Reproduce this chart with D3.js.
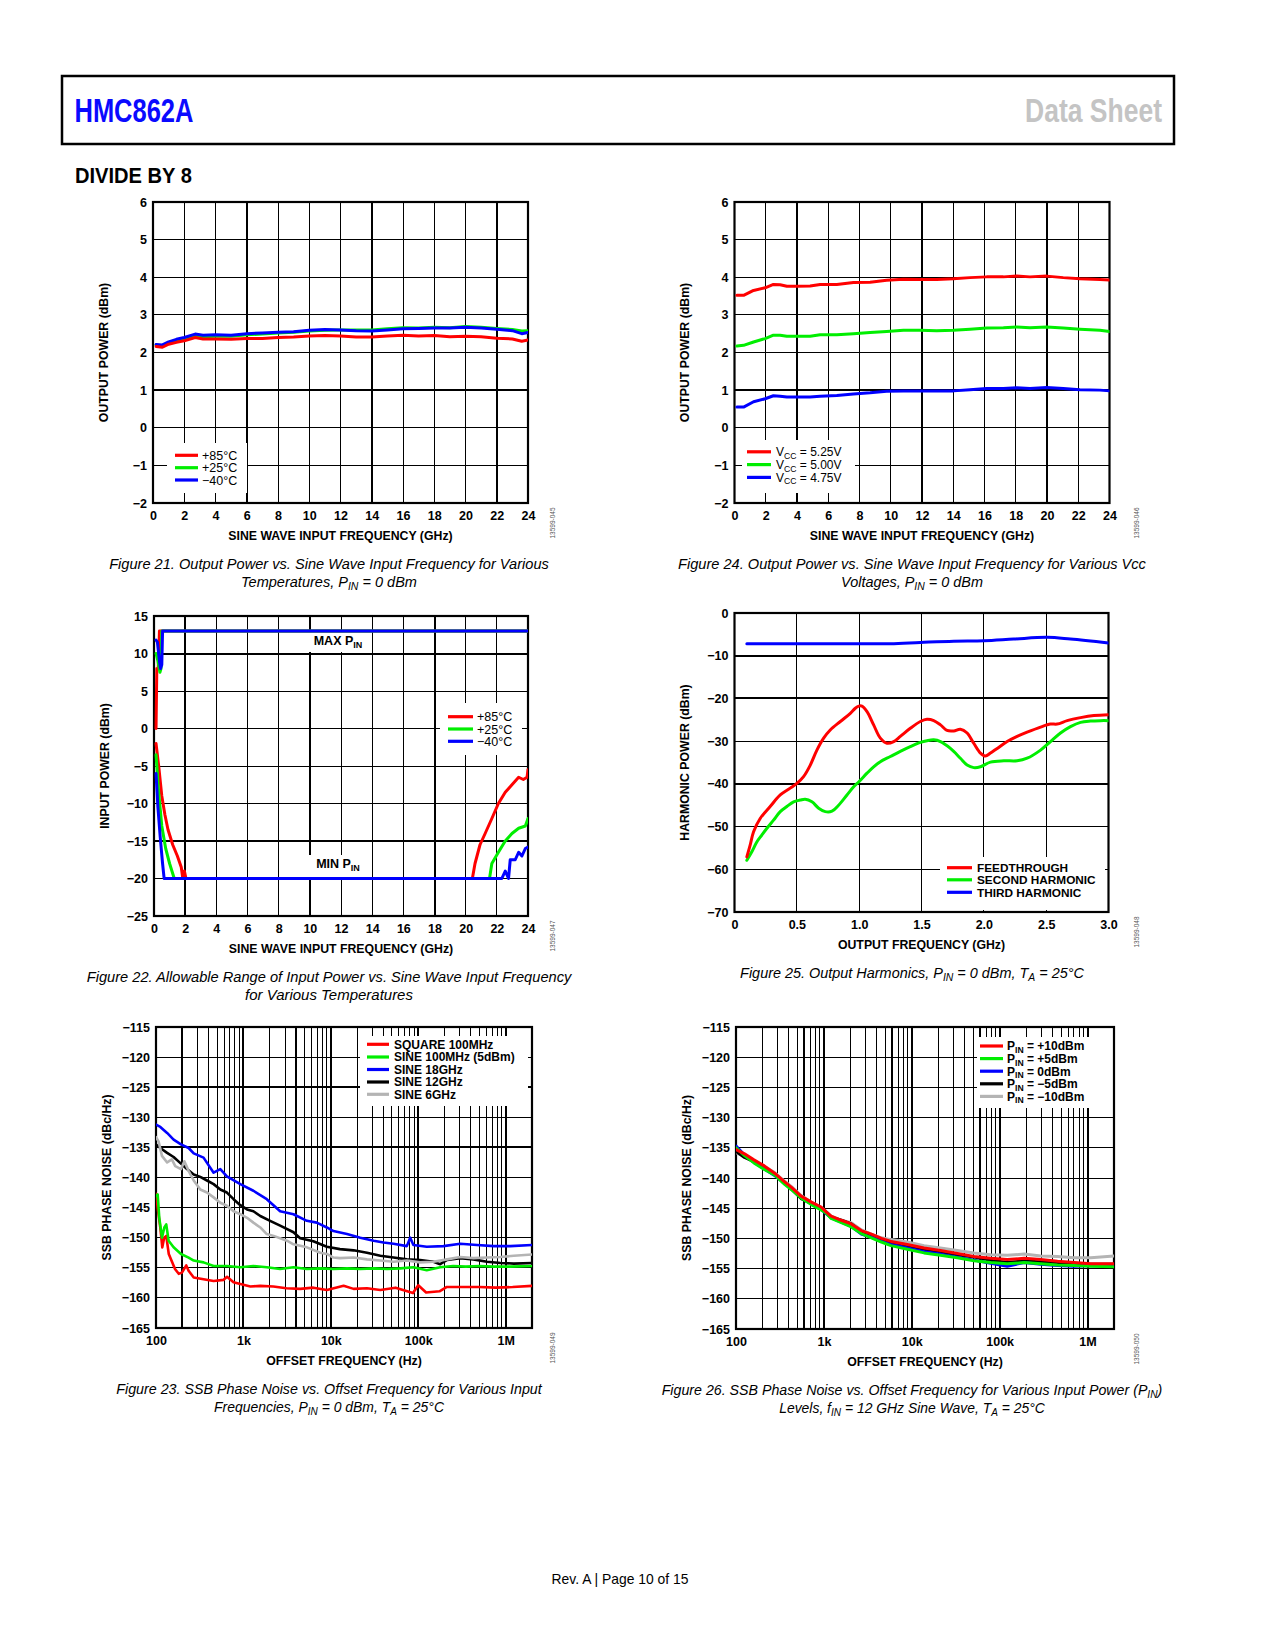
<!DOCTYPE html>
<html>
<head>
<meta charset="utf-8">
<script src="https://cdn.jsdelivr.net/npm/d3@7"></script>
<style>
  body { margin: 0; background: #fff; }
</style>
</head>
<body>
<script>
/* FONTS */
const SANS = '"Liberation Sans", Arial, sans-serif';

/* DATA */
// figure 21: output power vs frequency, three temperatures
const f21Freq = [0.2, 0.6, 1.0, 1.5, 2.0, 2.7, 3.2, 4, 5, 6, 7, 8, 9, 10, 11, 12, 13, 14, 15, 16, 17, 18, 19, 20, 21, 22, 23, 23.6, 24];
const f21Hot  = [2.16, 2.14, 2.22, 2.27, 2.31, 2.40, 2.36, 2.36, 2.35, 2.37, 2.37, 2.40, 2.41, 2.44, 2.45, 2.44, 2.41, 2.41, 2.44, 2.46, 2.44, 2.45, 2.42, 2.43, 2.42, 2.38, 2.36, 2.30, 2.33];
const f21Room = [2.20, 2.18, 2.26, 2.33, 2.37, 2.45, 2.42, 2.43, 2.43, 2.47, 2.49, 2.52, 2.54, 2.57, 2.59, 2.60, 2.60, 2.60, 2.63, 2.66, 2.65, 2.67, 2.66, 2.69, 2.67, 2.64, 2.61, 2.57, 2.58];
const f21Cold = [2.21, 2.20, 2.28, 2.35, 2.40, 2.49, 2.46, 2.47, 2.46, 2.50, 2.52, 2.54, 2.55, 2.59, 2.61, 2.60, 2.58, 2.57, 2.60, 2.63, 2.64, 2.65, 2.65, 2.67, 2.65, 2.62, 2.58, 2.50, 2.53];
const tempLabels = ["+85°C", "+25°C", "−40°C"];

// figure 22: allowable input power range
const maxFreqHot = [0.13, 0.18, 0.27, 0.35, 24];
const maxPinHot  = [0, 8, 8, 13, 13];
const maxFreqRoom = [0.13, 0.25, 0.38, 0.45, 0.5, 24];
const maxPinRoom  = [10, 9, 7.5, 8, 13, 13];
const maxFreqCold = [0.13, 0.22, 0.35, 0.42, 0.5, 0.55, 24];
const maxPinCold  = [11.8, 11.5, 9, 8, 8.5, 13, 13];
const minFreqHot = [0.13, 0.3, 0.5, 0.7, 0.9, 1.2, 1.5, 1.75, 1.85, 1.95, 2.05, 20.43, 20.6, 20.92, 21.25, 21.68, 22.1, 22.54, 22.97, 23.4, 23.7, 23.94, 24];
const minPinHot  = [-2, -5, -9, -11.5, -13.5, -15.5, -17, -18.5, -20, -19, -20, -20, -18, -15.5, -14, -12, -10, -8.5, -7.5, -6.5, -6.8, -6.5, -5.5];
const minFreqRoom = [0.13, 0.3, 0.5, 0.75, 1.0, 1.15, 1.3, 21.53, 21.68, 22.1, 22.54, 22.97, 23.4, 23.83, 24];
const minPinRoom  = [-3.5, -8.5, -13, -16, -18, -19, -20, -20, -18, -16.5, -15, -14, -13.3, -13, -12];
const minFreqCold = [0.13, 0.25, 0.4, 0.55, 0.65, 22.32, 22.54, 22.75, 22.86, 23.18, 23.4, 23.61, 23.83, 24];
const minPinCold  = [-6, -10.5, -14.5, -18, -20, -20, -19, -20, -17.5, -17.5, -16.5, -17, -16, -15.8];

// figure 23: phase noise for various input frequencies
const sq100Off = [100, 105, 112, 118, 124, 131, 140, 165, 182, 198, 222, 236, 270, 350, 456, 594, 650, 770, 922, 1200, 1560, 2200, 3100, 4460, 6300, 9000, 14000, 18200, 25900, 36800, 55000, 87000, 100000, 123000, 175000, 210000, 324000, 500000, 770000, 1200000, 2000000];
const sq100PN  = [-142.7, -145.3, -148.3, -151.6, -150.0, -149.7, -152.7, -155.2, -156.0, -155.8, -154.6, -155.5, -156.6, -156.9, -157.2, -157.0, -156.5, -157.4, -157.7, -158.1, -158.0, -158.1, -158.4, -158.5, -158.3, -158.7, -158.0, -158.5, -158.4, -158.7, -158.3, -159.2, -157.9, -159.1, -158.9, -158.2, -158.2, -158.2, -158.3, -158.2, -158.0];
const sin100Off = [100, 104.5, 109, 117, 124.5, 131, 139.5, 159, 193, 236, 270, 350, 456, 650, 922, 1300, 1850, 2630, 3740, 5320, 7560, 10700, 15300, 21700, 30900, 44000, 62500, 88000, 125000, 178000, 250000, 350000, 500000, 730000, 1130000, 2000000];
const sin100PN  = [-143.1, -142.8, -146.7, -150.0, -148.3, -147.8, -150.5, -151.6, -152.7, -153.3, -153.8, -154.1, -154.7, -154.7, -154.9, -154.7, -154.9, -155.2, -154.9, -155.2, -155.1, -155.2, -155.1, -155.2, -155.1, -155.2, -155.1, -154.9, -155.4, -154.9, -154.7, -154.8, -154.7, -154.8, -154.8, -154.7];
const sin18Off = [100, 112, 134, 159, 193, 236, 270, 350, 456, 544, 647, 922, 1300, 1850, 2630, 3740, 5320, 6900, 9000, 10700, 15300, 21700, 30900, 40000, 52100, 74000, 80900, 88000, 125000, 194000, 302000, 470000, 730000, 1130000, 2000000];
const sin18PN  = [-131.2, -131.6, -132.6, -133.7, -134.5, -135.1, -136.0, -136.7, -139.2, -138.6, -139.8, -141.1, -142.2, -143.6, -145.6, -146.1, -147.2, -147.5, -148.3, -148.9, -149.4, -150.0, -150.5, -150.8, -151.0, -151.4, -150.0, -151.2, -151.5, -151.4, -151.0, -151.2, -151.4, -151.4, -151.2];
const sin12Off = [100, 112, 134, 159, 193, 226, 270, 321, 383, 456, 544, 647, 771, 922, 1100, 1300, 1560, 2020, 2630, 3740, 4460, 6300, 9000, 12700, 18200, 25900, 36800, 52100, 74000, 105000, 149000, 178000, 214000, 302000, 427000, 611000, 872000, 1240000, 2000000];
const sin12PN  = [-134.5, -135.1, -135.9, -136.6, -137.7, -138.6, -139.5, -139.9, -140.5, -141.1, -142.0, -142.5, -143.6, -144.6, -145.3, -145.6, -146.4, -147.2, -148.0, -149.1, -150.1, -150.6, -151.5, -151.9, -152.1, -152.5, -153.0, -153.3, -153.6, -153.7, -154.0, -154.4, -153.7, -153.4, -153.6, -154.0, -154.2, -154.3, -154.2];
const sin6Off = [100, 107, 117, 134, 152, 166, 193, 211, 236, 270, 321, 383, 456, 544, 647, 771, 922, 1100, 1300, 1560, 1850, 2220, 3140, 3740, 5320, 7560, 9000, 10700, 12700, 18200, 25900, 36800, 52100, 74000, 105000, 149000, 214000, 302000, 427000, 611000, 872000, 1240000, 2000000];
const sin6PN  = [-133.3, -134.0, -136.4, -137.5, -137.0, -138.1, -138.6, -137.3, -138.9, -140.5, -142.0, -142.5, -143.3, -144.2, -144.7, -145.6, -146.1, -146.7, -147.5, -148.3, -149.4, -149.7, -150.5, -151.1, -151.6, -152.5, -152.7, -153.3, -153.4, -153.3, -153.6, -153.8, -154.0, -153.8, -154.1, -154.0, -153.6, -153.2, -153.4, -153.3, -153.2, -153.0, -152.8];
const inputLabels = ["SQUARE 100MHz", "SINE 100MHz (5dBm)", "SINE 18GHz", "SINE 12GHz", "SINE 6GHz"];

// figure 24: output power for various supply voltages
const f24Freq = [0.15, 0.58, 1.22, 1.96, 2.49, 2.92, 3.35, 3.99, 4.84, 5.48, 6.55, 7.61, 8.68, 9.74, 10.81, 11.88, 12.94, 14.01, 15.07, 16.14, 17.21, 18.06, 18.91, 19.98, 21.04, 22.11, 23.39, 24];
const vcc525 = [3.52, 3.52, 3.65, 3.72, 3.81, 3.80, 3.76, 3.76, 3.77, 3.81, 3.81, 3.86, 3.87, 3.92, 3.95, 3.94, 3.94, 3.96, 3.99, 4.01, 4.01, 4.03, 4.01, 4.03, 3.99, 3.96, 3.94, 3.93];
const vcc500 = [2.17, 2.19, 2.28, 2.37, 2.46, 2.46, 2.43, 2.43, 2.43, 2.47, 2.47, 2.50, 2.53, 2.56, 2.59, 2.59, 2.58, 2.59, 2.62, 2.65, 2.66, 2.68, 2.66, 2.68, 2.65, 2.62, 2.59, 2.56];
const vcc475 = [0.55, 0.55, 0.69, 0.77, 0.85, 0.84, 0.82, 0.82, 0.82, 0.84, 0.86, 0.90, 0.93, 0.97, 0.98, 0.98, 0.98, 0.98, 1.01, 1.04, 1.04, 1.06, 1.04, 1.07, 1.04, 1.01, 1.00, 0.98];
const vccLabels = ["V_{CC} = 5.25V", "V_{CC} = 5.00V", "V_{CC} = 4.75V"];

// figure 25: output harmonics
const feedFreq = [0.099, 0.126, 0.153, 0.206, 0.286, 0.367, 0.447, 0.5, 0.554, 0.608, 0.661, 0.715, 0.768, 0.849, 0.929, 0.969, 0.998, 1.022, 1.063, 1.116, 1.17, 1.223, 1.277, 1.33, 1.41, 1.491, 1.544, 1.598, 1.652, 1.705, 1.759, 1.812, 1.866, 1.919, 1.973, 2.013, 2.053, 2.107, 2.187, 2.267, 2.347, 2.455, 2.535, 2.588, 2.669, 2.776, 2.883, 3.0];
const feedPow  = [-57.1, -54.3, -51.2, -48.1, -45.3, -42.6, -41.0, -39.9, -38.3, -35.6, -32.1, -29.3, -27.4, -25.4, -23.5, -22.3, -21.8, -21.8, -23.1, -26.2, -29.3, -30.5, -30.1, -28.9, -27.0, -25.4, -24.9, -25.2, -26.2, -27.5, -27.6, -27.2, -28.1, -30.5, -32.8, -33.5, -32.8, -31.7, -30.1, -28.9, -27.9, -26.7, -26.0, -26.0, -25.2, -24.5, -24.0, -23.8];
const secFreq = [0.099, 0.139, 0.179, 0.219, 0.26, 0.313, 0.367, 0.42, 0.474, 0.527, 0.567, 0.621, 0.675, 0.728, 0.782, 0.835, 0.902, 0.956, 0.998, 1.063, 1.116, 1.17, 1.25, 1.33, 1.41, 1.491, 1.544, 1.598, 1.652, 1.732, 1.812, 1.866, 1.919, 1.973, 2.053, 2.16, 2.267, 2.347, 2.455, 2.535, 2.615, 2.695, 2.776, 2.856, 2.936, 3.0];
const secPow  = [-57.9, -55.9, -53.6, -52.0, -50.4, -48.5, -46.5, -45.3, -44.2, -43.8, -43.6, -44.2, -45.7, -46.5, -46.4, -45.0, -42.6, -40.7, -39.5, -37.5, -36.0, -34.8, -33.6, -32.4, -31.3, -30.3, -29.9, -29.7, -30.1, -31.7, -34.0, -35.6, -36.2, -36.0, -34.9, -34.6, -34.6, -34.0, -32.1, -30.1, -28.1, -26.6, -25.6, -25.3, -25.2, -25.2];
const thirdFreq = [0.099, 0.42, 0.998, 1.25, 1.491, 1.759, 2.0, 2.24, 2.508, 2.695, 3.0];
const thirdPow  = [-7.2, -7.2, -7.2, -7.2, -6.9, -6.6, -6.5, -6.1, -5.7, -6.1, -7.0];
const harmLabels = ["FEEDTHROUGH", "SECOND HARMONIC", "THIRD HARMONIC"];

// figure 26: phase noise for various input powers (12 GHz)
const pinOff = [100, 125, 160, 210, 275, 355, 425, 550, 720, 930, 1060, 1210, 1580, 2050, 2670, 3470, 4510, 5800, 8900, 13800, 21200, 33000, 51000, 79000, 122000, 190000, 294000, 455000, 704000, 1090000, 2000000];
const pnP10  = [-135.3, -136.0, -137.0, -138.0, -139.2, -140.6, -141.5, -143.0, -144.0, -144.8, -145.6, -146.3, -147.0, -147.6, -148.7, -149.3, -150.0, -150.5, -151.0, -151.6, -152.0, -152.5, -153.0, -153.3, -153.5, -153.3, -153.5, -153.8, -154.0, -154.2, -154.2];
const pnP5   = [-135.0, -136.3, -137.5, -138.6, -139.5, -141.0, -141.9, -143.3, -144.4, -145.3, -145.8, -146.7, -147.4, -148.1, -149.2, -149.9, -150.6, -151.2, -151.8, -152.4, -152.8, -153.2, -153.7, -154.0, -154.2, -154.0, -154.2, -154.4, -154.5, -154.6, -154.7];
const pnP0   = [-134.7, -136.2, -137.4, -138.5, -139.6, -140.8, -141.7, -143.1, -144.3, -145.2, -145.9, -146.6, -147.3, -148.0, -149.3, -149.8, -150.5, -151.0, -151.6, -152.2, -152.6, -153.1, -153.6, -154.1, -154.6, -154.0, -154.3, -154.5, -154.6, -154.5, -154.6];
const pnM5   = [-135.6, -136.6, -137.3, -138.3, -139.4, -140.9, -141.8, -143.4, -144.2, -145.0, -145.7, -146.5, -147.0, -147.6, -148.9, -149.6, -150.3, -150.6, -151.2, -151.8, -152.2, -152.7, -153.1, -153.6, -154.0, -153.7, -153.9, -154.1, -154.2, -154.3, -154.3];
const pnM10  = [-135.8, -136.4, -137.2, -138.1, -139.1, -140.5, -141.4, -142.9, -144.0, -144.9, -145.5, -146.3, -147.0, -147.4, -148.6, -149.3, -149.9, -150.2, -150.6, -151.2, -151.6, -152.0, -152.4, -152.7, -152.8, -152.6, -152.9, -153.0, -153.2, -153.2, -152.9];
const pinLabels = ["P_{IN} = +10dBm", "P_{IN} = +5dBm", "P_{IN} = 0dBm", "P_{IN} = −5dBm", "P_{IN} = −10dBm"];

// axis ticks
const powerTicks = d3.range(-2, 7, 1);
const ghzTicks = d3.range(0, 25, 2);
const pinTicks = d3.range(-25, 20, 5);
const pnTicks = d3.range(-165, -110, 5);
const decadeTicks = [100, 1000, 10000, 100000, 1000000];
const decadeNames = {100: "100", 1000: "1k", 10000: "10k", 100000: "100k", 1000000: "1M"};
const harmTicks = d3.range(-70, 10, 10);
const outFreqTicks = d3.range(0, 3.01, 0.5);

/* PAGE */
const svg = d3.select("body").append("svg")
  .attr("width", 1275)
  .attr("height", 1650)
  .style("display", "block");

// squeeze a text horizontally so it spans a target width (condensed look)
function fitX(t, cx, cy, width) {
  const len = t.node().getComputedTextLength();
  const s = len > 0 ? width / len : 1;
  t.attr("x", 0).attr("y", 0).attr("transform", `translate(${cx},${cy}) scale(${s},1)`);
  return t;
}

// "P_{IN} = 0" -> tspans with subscripts
function rich(t, str) {
  str.split(/_\{|\}/).forEach((p, i) => {
    if (!p) return;
    const ts = t.append("tspan").text(p);
    if (i % 2 === 1) ts.attr("font-size", "0.72em").attr("dy", "0.3em");
    else if (i > 0) ts.attr("dy", "-0.216em");
  });
  return t;
}

// log grid: 1..9 times each decade
function logGrid(lo, hi) {
  const out = [];
  for (let d = lo; d < hi; d *= 10) {
    for (let k = 1; k <= 9; k++) if (d * k > lo && d * k < hi) out.push(d * k);
  }
  return out;
}

function drawChart(c) {
  const g = svg.append("g");
  const x = (c.log ? d3.scaleLog() : d3.scaleLinear()).domain(c.xDomain).range([c.left, c.left + c.w]);
  const y = d3.scaleLinear().domain(c.yDomain).range([c.top + c.h, c.top]);
  const bottom = c.top + c.h;

  g.append("clipPath").attr("id", "clip" + c.id)
    .append("rect").attr("x", c.left).attr("y", c.top).attr("width", c.w).attr("height", c.h);

  // grid
  const grid = g.append("g").attr("stroke", "#000").attr("shape-rendering", "crispEdges");
  grid.selectAll(".v").data(c.xGrid).join("line")
    .attr("x1", d => x(d)).attr("x2", d => x(d))
    .attr("y1", c.top).attr("y2", bottom)
    .attr("stroke-width", d => c.xHeavy.includes(d) ? 2 : 1);
  grid.selectAll(".h").data(c.yGrid).join("line")
    .attr("x1", c.left).attr("x2", c.left + c.w)
    .attr("y1", d => y(d)).attr("y2", d => y(d))
    .attr("stroke-width", d => c.yHeavy.includes(d) ? 2 : 1);

  // legend box hides the grid under it
  const L = c.legend;
  g.append("rect").attr("x", L.x).attr("y", L.y).attr("width", L.w).attr("height", L.h).attr("fill", "#fff");
  c.series.filter(s => s.label).forEach((s, i) => {
    const cy = L.rows[i];
    g.append("line").attr("x1", L.x1).attr("x2", L.x2).attr("y1", cy).attr("y2", cy)
      .attr("stroke", s.color).attr("stroke-width", 3.2);
    const t = g.append("text").attr("x", L.tx).attr("y", cy + L.fs * 0.36)
      .attr("font-family", SANS).attr("font-size", L.fs).attr("font-weight", L.weight);
    rich(t, s.label);
  });

  // in-plot notes
  (c.notes || []).forEach(n => {
    g.append("rect").attr("x", n.bx).attr("y", n.by).attr("width", n.bw).attr("height", n.bh).attr("fill", "#fff");
    const t = g.append("text").attr("x", n.x).attr("y", n.y).attr("text-anchor", "middle")
      .attr("font-family", SANS).attr("font-size", 12.5).attr("font-weight", "bold");
    rich(t, n.text);
  });

  // frame
  g.append("rect").attr("x", c.left).attr("y", c.top).attr("width", c.w).attr("height", c.h)
    .attr("fill", "none").attr("stroke", "#000").attr("stroke-width", 2.2);

  // axes
  const ya = g.append("g").attr("transform", `translate(${c.left},0)`)
    .call(d3.axisLeft(y).tickValues(c.yTicks).tickSize(0).tickPadding(6));
  ya.select(".domain").remove();
  ya.attr("font-family", SANS).attr("font-size", 12.5).attr("font-weight", "bold");

  const xa = g.append("g").attr("transform", `translate(0,${bottom})`)
    .call(d3.axisBottom(x).tickValues(c.xTicks).tickFormat(c.xFormat).tickSize(0).tickPadding(8));
  xa.select(".domain").remove();
  xa.attr("font-family", SANS).attr("font-size", 12.5).attr("font-weight", "bold");

  g.append("text")
    .attr("transform", `translate(${c.left - 49.5},${c.top + c.h / 2}) rotate(-90)`)
    .attr("text-anchor", "middle").attr("dy", "0.35em")
    .attr("font-family", SANS).attr("font-size", 12.3).attr("font-weight", "bold")
    .text(c.yTitle);
  g.append("text")
    .attr("x", c.left + c.w / 2).attr("y", bottom + 37)
    .attr("text-anchor", "middle")
    .attr("font-family", SANS).attr("font-size", 12.3).attr("font-weight", "bold")
    .text(c.xTitle);

  // data lines
  const line = d3.line().x(d => x(d[0])).y(d => y(d[1]));
  if (c.curve) line.curve(c.curve);
  g.append("g").attr("clip-path", `url(#clip${c.id})`)
    .selectAll("path").data(c.series.slice().sort((a, b) => a.z - b.z)).join("path")
    .attr("d", s => line(d3.zip(s.x, s.y)))
    .attr("fill", "none").attr("stroke", s => s.color).attr("stroke-width", c.lineWidth)
    .attr("stroke-linejoin", "round").attr("stroke-linecap", "round");

  // figure id at the side
  g.append("text")
    .attr("transform", `translate(${c.idX},${bottom + 20}) rotate(-90)`)
    .attr("text-anchor", "middle").attr("dy", "0.35em")
    .attr("font-family", SANS).attr("font-size", 6.5).attr("fill", "#555")
    .text(c.figId);

  // caption (italic, squeezed to the condensed width of the original)
  c.caption.forEach((line, i) => {
    const t = svg.append("text")
      .attr("text-anchor", "middle")
      .attr("font-family", SANS).attr("font-style", "italic").attr("font-size", 15.5);
    rich(t, line);
    fitX(t, c.capX, bottom + 66 + i * 18, c.capW[i]);
  });
}

const RED = "#ff0000", GREEN = "#00ee00", BLUE = "#0000ff", BLACK = "#000000", GRAY = "#b4b4b4";
const numFmt = d3.format("d");

/* HEADER */
svg.append("rect").attr("x", 62).attr("y", 76).attr("width", 1112).attr("height", 68)
  .attr("fill", "none").attr("stroke", "#000").attr("stroke-width", 2.5);
fitX(svg.append("text").attr("font-family", SANS).attr("font-weight", "bold").attr("font-size", 34)
  .attr("fill", "#0a0aff").text("HMC862A"), 74.5, 122, 119);
fitX(svg.append("text").attr("text-anchor", "end").attr("font-family", SANS).attr("font-weight", "bold").attr("font-size", 34)
  .attr("fill", "#c4c4c4").text("Data Sheet"), 1162, 122, 137);
fitX(svg.append("text").attr("font-family", SANS).attr("font-weight", "bold").attr("font-size", 21.5)
  .attr("fill", "#000").text("DIVIDE BY 8"), 75, 183, 117);

/* FIGURE 21 */
drawChart({
  id: 21, left: 153, top: 202, w: 375, h: 301,
  xDomain: [0, 24], yDomain: [-2, 6],
  xTicks: ghzTicks, yTicks: powerTicks, xFormat: numFmt,
  xGrid: d3.range(2, 24, 2), yGrid: d3.range(-1, 6, 1), xHeavy: [6, 14, 22], yHeavy: [1],
  yTitle: "OUTPUT POWER (dBm)", xTitle: "SINE WAVE INPUT FREQUENCY (GHz)",
  lineWidth: 3,
  series: [
    {x: f21Freq, y: f21Hot, color: RED, label: tempLabels[0], z: 3},
    {x: f21Freq, y: f21Room, color: GREEN, label: tempLabels[1], z: 1},
    {x: f21Freq, y: f21Cold, color: BLUE, label: tempLabels[2], z: 2}
  ],
  legend: {x: 167, y: 443, w: 80, h: 50, rows: [455.3, 467.7, 480], x1: 175, x2: 198, tx: 202, fs: 12.5, weight: "normal"},
  figId: "13599-045", idX: 553,
  caption: ["Figure 21. Output Power vs. Sine Wave Input Frequency for Various", "Temperatures, P_{IN} = 0 dBm"],
  capX: 329, capW: [440, 176]
});

/* FIGURE 22 */
drawChart({
  id: 22, left: 154, top: 616, w: 374, h: 300,
  xDomain: [0, 24], yDomain: [-25, 15],
  xTicks: ghzTicks, yTicks: pinTicks, xFormat: numFmt,
  xGrid: d3.range(2, 24, 2), yGrid: d3.range(-20, 15, 5), xHeavy: [2, 10, 18], yHeavy: [10, -15],
  yTitle: "INPUT POWER (dBm)", xTitle: "SINE WAVE INPUT FREQUENCY (GHz)",
  lineWidth: 3,
  series: [
    {x: maxFreqHot, y: maxPinHot, color: RED, label: tempLabels[0], z: 1},
    {x: maxFreqRoom, y: maxPinRoom, color: GREEN, label: tempLabels[1], z: 2},
    {x: maxFreqCold, y: maxPinCold, color: BLUE, label: tempLabels[2], z: 3},
    {x: minFreqHot, y: minPinHot, color: RED, z: 1},
    {x: minFreqRoom, y: minPinRoom, color: GREEN, z: 2},
    {x: minFreqCold, y: minPinCold, color: BLUE, z: 3}
  ],
  notes: [
    {text: "MAX P_{IN}", x: 338, y: 645, bx: 306, by: 632, bw: 62, bh: 20},
    {text: "MIN P_{IN}", x: 338, y: 868, bx: 306, by: 855, bw: 62, bh: 22}
  ],
  legend: {x: 440, y: 703, w: 82, h: 52, rows: [716.7, 729, 741.3], x1: 448, x2: 473, tx: 477, fs: 12.5, weight: "normal"},
  figId: "13599-047", idX: 553,
  caption: ["Figure 22. Allowable Range of Input Power vs. Sine Wave Input Frequency", "for Various Temperatures"],
  capX: 329, capW: [485, 168]
});

/* FIGURE 23 */
drawChart({
  id: 23, left: 156, top: 1027, w: 376, h: 301, log: true,
  xDomain: [100, 2000000], yDomain: [-165, -115],
  xTicks: decadeTicks, yTicks: pnTicks, xFormat: d => decadeNames[d],
  xGrid: logGrid(100, 2000000), yGrid: d3.range(-160, -115, 5),
  xHeavy: [200, 1000, 4000, 10000, 100000, 1000000], yHeavy: [-125, -135],
  yTitle: "SSB PHASE NOISE (dBc/Hz)", xTitle: "OFFSET FREQUENCY (Hz)",
  lineWidth: 2.6,
  series: [
    {x: sq100Off, y: sq100PN, color: RED, label: inputLabels[0], z: 1},
    {x: sin100Off, y: sin100PN, color: GREEN, label: inputLabels[1], z: 2},
    {x: sin18Off, y: sin18PN, color: BLUE, label: inputLabels[2], z: 3},
    {x: sin12Off, y: sin12PN, color: BLACK, label: inputLabels[3], z: 4},
    {x: sin6Off, y: sin6PN, color: GRAY, label: inputLabels[4], z: 5}
  ],
  legend: {x: 360, y: 1036, w: 168, h: 70, rows: [1044.3, 1057, 1069.5, 1082, 1094.3], x1: 367, x2: 389, tx: 394, fs: 12, weight: "bold"},
  figId: "13599-049", idX: 553,
  caption: ["Figure 23. SSB Phase Noise vs. Offset Frequency for Various Input", "Frequencies, P_{IN} = 0 dBm, T_{A} = 25°C"],
  capX: 329, capW: [426, 230]
});

/* FIGURE 24 */
drawChart({
  id: 24, left: 734.5, top: 202, w: 375, h: 301,
  xDomain: [0, 24], yDomain: [-2, 6],
  xTicks: ghzTicks, yTicks: powerTicks, xFormat: numFmt,
  xGrid: d3.range(2, 24, 2), yGrid: d3.range(-1, 6, 1), xHeavy: [4, 12, 20], yHeavy: [1],
  yTitle: "OUTPUT POWER (dBm)", xTitle: "SINE WAVE INPUT FREQUENCY (GHz)",
  lineWidth: 3,
  series: [
    {x: f24Freq, y: vcc525, color: RED, label: vccLabels[0], z: 1},
    {x: f24Freq, y: vcc500, color: GREEN, label: vccLabels[1], z: 2},
    {x: f24Freq, y: vcc475, color: BLUE, label: vccLabels[2], z: 3}
  ],
  legend: {x: 742, y: 440, w: 113, h: 53, rows: [451.8, 464.6, 477.4], x1: 747, x2: 771, tx: 776, fs: 12, weight: "normal"},
  figId: "13599-046", idX: 1136.5,
  caption: ["Figure 24. Output Power vs. Sine Wave Input Frequency for Various Vcc", "Voltages, P_{IN} = 0 dBm"],
  capX: 912, capW: [468, 142]
});

/* FIGURE 25 */
drawChart({
  id: 25, left: 734.5, top: 613, w: 374, h: 299,
  xDomain: [0, 3], yDomain: [-70, 0],
  xTicks: outFreqTicks, yTicks: harmTicks, xFormat: d => d === 0 ? "0" : d3.format(".1f")(d),
  xGrid: d3.range(0.5, 3, 0.5), yGrid: d3.range(-60, 0, 10), xHeavy: [], yHeavy: [-10, -20, -40],
  yTitle: "HARMONIC POWER (dBm)", xTitle: "OUTPUT FREQUENCY (GHz)",
  lineWidth: 3, curve: d3.curveCatmullRom,
  series: [
    {x: feedFreq, y: feedPow, color: RED, label: harmLabels[0], z: 2},
    {x: secFreq, y: secPow, color: GREEN, label: harmLabels[1], z: 1},
    {x: thirdFreq, y: thirdPow, color: BLUE, label: harmLabels[2], z: 3}
  ],
  legend: {x: 940, y: 857, w: 165, h: 53, rows: [867.7, 879.8, 892.3], x1: 947, x2: 972, tx: 977, fs: 11.8, weight: "bold"},
  figId: "13599-048", idX: 1136.5,
  caption: ["Figure 25. Output Harmonics, P_{IN} = 0 dBm, T_{A} = 25°C"],
  capX: 912, capW: [344]
});

/* FIGURE 26 */
drawChart({
  id: 26, left: 736, top: 1027, w: 378, h: 302, log: true,
  xDomain: [100, 2000000], yDomain: [-165, -115],
  xTicks: decadeTicks, yTicks: pnTicks, xFormat: d => decadeNames[d],
  xGrid: logGrid(100, 2000000), yGrid: d3.range(-160, -115, 5),
  xHeavy: [600, 1000, 6000, 10000, 60000, 100000, 1000000], yHeavy: [],
  yTitle: "SSB PHASE NOISE (dBc/Hz)", xTitle: "OFFSET FREQUENCY (Hz)",
  lineWidth: 3,
  series: [
    {x: pinOff, y: pnP10, color: RED, label: pinLabels[0], z: 5},
    {x: pinOff, y: pnP5, color: GREEN, label: pinLabels[1], z: 4},
    {x: pinOff, y: pnP0, color: BLUE, label: pinLabels[2], z: 3},
    {x: pinOff, y: pnM5, color: BLACK, label: pinLabels[3], z: 2},
    {x: pinOff, y: pnM10, color: GRAY, label: pinLabels[4], z: 1}
  ],
  legend: {x: 977, y: 1037, w: 136, h: 71, rows: [1046, 1058.6, 1071.2, 1083.8, 1096.4], x1: 980, x2: 1003, tx: 1007, fs: 12, weight: "bold"},
  figId: "13599-050", idX: 1136.5,
  caption: ["Figure 26. SSB Phase Noise vs. Offset Frequency for Various Input Power (P_{IN})", "Levels, f_{IN} = 12 GHz Sine Wave, T_{A} = 25°C"],
  capX: 912, capW: [501, 266]
});

/* FOOTER */
fitX(svg.append("text").attr("text-anchor", "middle")
  .attr("font-family", SANS).attr("font-size", 14).text("Rev. A | Page 10 of 15"), 620, 1584, 137);
</script>
</body>
</html>
